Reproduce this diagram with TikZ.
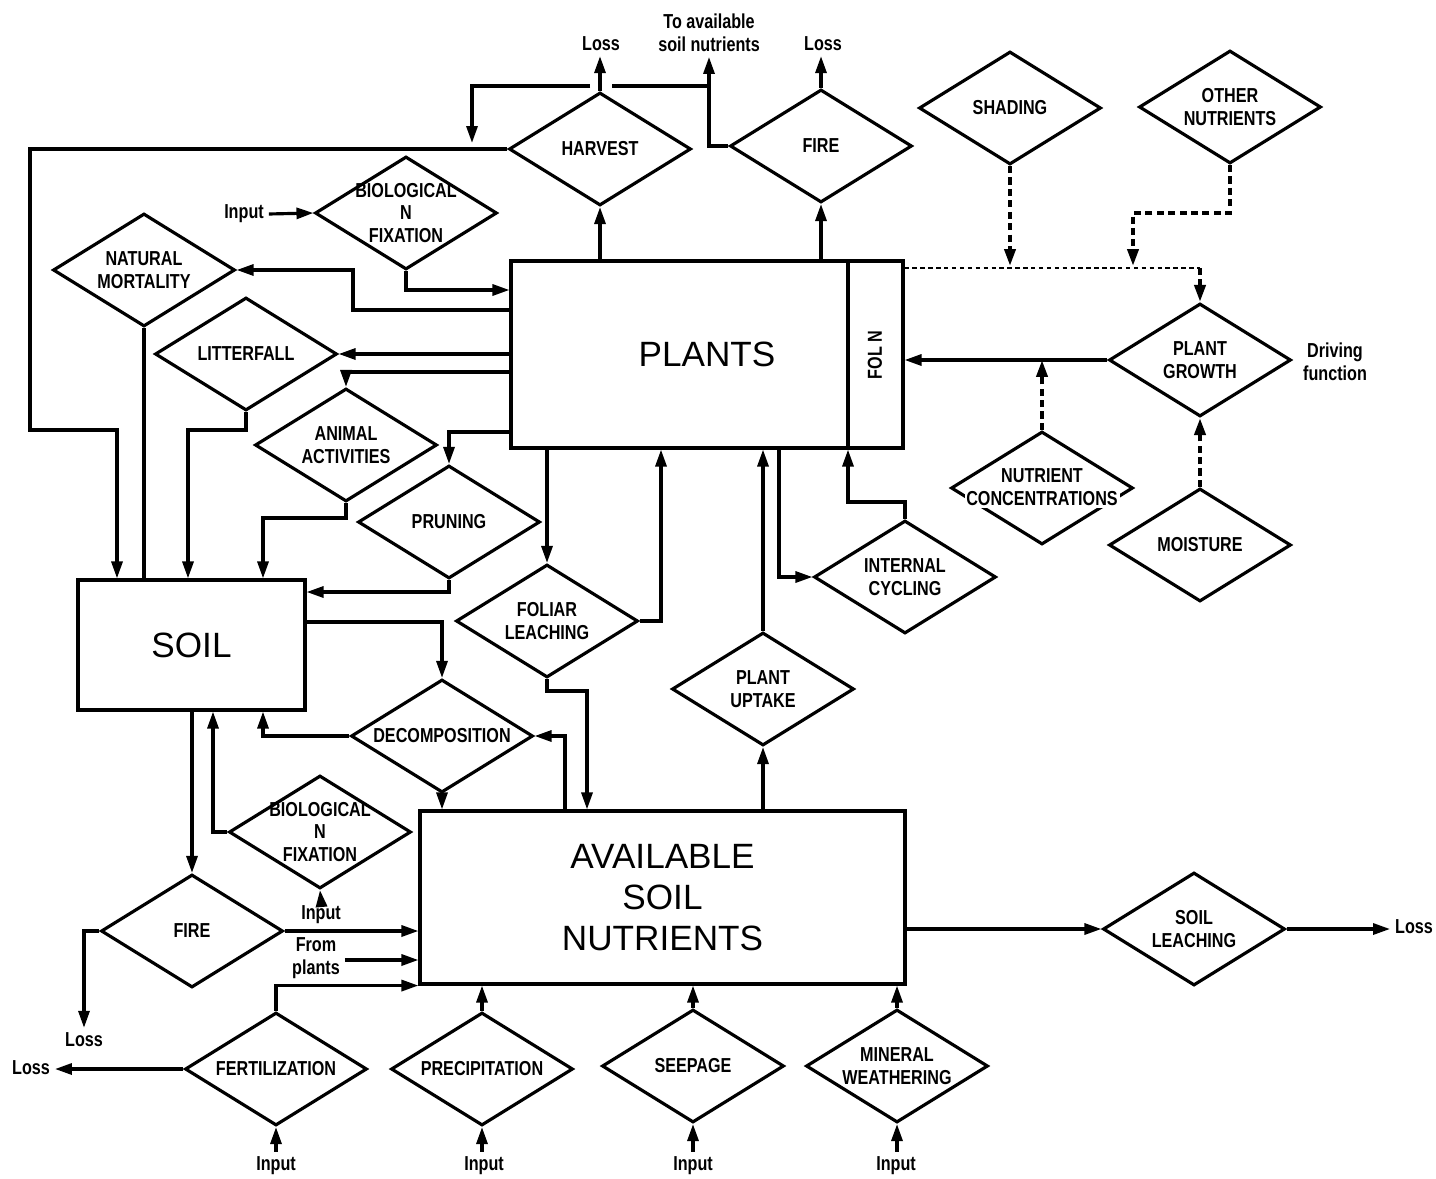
\documentclass[tikz,border=0pt]{standalone}
\usepackage{fontspec}
\setmainfont{Liberation Sans}
\newfontfamily\condf[FakeStretch=0.8]{Liberation Sans}
\newcommand{\dfont}{\condf\bfseries\fontsize{11.5}{13}\selectfont}
\newcommand{\bigf}{\fontsize{20}{23.5}\selectfont}
\usetikzlibrary{shapes.geometric, arrows.meta, calc}

\begin{document}
\begin{tikzpicture}[x=0.02cm, y=-0.02cm, line width=1.8pt,
  box/.style={draw, rectangle, inner sep=0pt, font=\bigf, align=center},
  dtxt/.style={font=\dfont, align=center, inner sep=1pt},
  dia/.style={diamond, draw, minimum width=3.64cm, minimum height=2.26cm,
    inner sep=0pt, label={[dtxt]center:#1}},
  tlbl/.style={font=\dfont, align=center, inner sep=2pt},
  arr/.style={-{Triangle[length=3.4mm,width=2.2mm]}},
  dsh/.style={-{Triangle[length=3.4mm,width=2.2mm]}, dash pattern=on 4pt off 2.5pt, line width=2.2pt},
  dt/.style={dash pattern=on 2.5pt off 2pt, line width=1.3pt}]
  \useasboundingbox (0,0) rectangle (1436,1179);

  % pools
  \node[box, minimum width=7.84cm, minimum height=3.74cm] (plants) at (707,354.5) {PLANTS};
  \node[box, minimum width=4.54cm, minimum height=2.6cm] (soil) at (191.5,645) {SOIL};
  \node[box, minimum width=9.7cm, minimum height=3.46cm] (avail) at (662.5,897.5) {AVAILABLE\\SOIL\\NUTRIENTS};
  \draw (848,0 |- plants.north) -- (848,0 |- plants.south);
  \node[tlbl, rotate=90] (foln) at (875,355) {FOL N};

  % processes
  \node[dia=HARVEST] (harvest) at (600,149) {};
  \node[dia=FIRE] (fire1) at (821,146) {};
  \node[dia=SHADING] (shade) at (1010,108) {};
  \node[dia={OTHER\\NUTRIENTS}] (othern) at (1230,107) {};
  \node[dia={BIOLOGICAL\\N\\FIXATION}] (bnf1) at (406,213) {};
  \node[dia={NATURAL\\MORTALITY}] (nmort) at (144,270) {};
  \node[dia=LITTERFALL] (litter) at (246,354) {};
  \node[dia={ANIMAL\\ACTIVITIES}] (anim) at (346,445) {};
  \node[dia=PRUNING] (prun) at (449,522) {};
  \node[dia={FOLIAR\\LEACHING}] (foliar) at (547,621) {};
  \node[dia={PLANT\\UPTAKE}] (uptake) at (763,689) {};
  \node[dia={INTERNAL\\CYCLING}] (intcyc) at (905,577) {};
  \node[dia={}, label={[dtxt, yshift=0.24cm]center:NUTRIENT},
    label={[dtxt, fill=white, yshift=-0.22cm]center:CONCENTRATIONS}] (nconc) at (1042,488) {};
  \node[dia={PLANT\\GROWTH}] (pgrowth) at (1200,360) {};
  \node[dia=MOISTURE] (moist) at (1200,545) {};
  \node[dia=DECOMPOSITION] (decomp) at (442,736) {};
  \node[dia={BIOLOGICAL\\N\\FIXATION}] (bnf2) at (320,832) {};
  \node[dia=FIRE] (fire2) at (192,931) {};
  \node[dia=FERTILIZATION] (fert) at (276,1069) {};
  \node[dia=PRECIPITATION] (precip) at (482,1069) {};
  \node[dia=SEEPAGE] (seep) at (693,1066) {};
  \node[dia={MINERAL\\WEATHERING}] (mineral) at (897,1066) {};
  \node[dia={SOIL\\LEACHING}] (sleach) at (1194,929) {};

  % free labels
  \node[tlbl] (lossA) at (601,44) {Loss};
  \node[tlbl] (lossB) at (823,44) {Loss};
  \node[tlbl] (toavail) at (709,33) {To available\\soil nutrients};
  \node[tlbl] (in1) at (244,214) {Input};
  \node[tlbl] (drive) at (1335,362) {Driving\\function};
  \node[tlbl] (in2) at (321,915) {Input};
  \node[tlbl] (fromp) at (316,958) {From\\plants};
  \node[tlbl] (loss3) at (84,1040) {Loss};
  \node[tlbl] (loss4) at (31,1068) {Loss};
  \node[tlbl] (loss5) at (1414,927) {Loss};
  \node[tlbl] (in3) at (276,1166) {Input};
  \node[tlbl] (in4) at (484,1166) {Input};
  \node[tlbl] (in5) at (693,1166) {Input};
  \node[tlbl] (in6) at (896,1166) {Input};

  % top: harvest and fire
  \draw[arr] (plants.north -| harvest.south) -- (harvest.south);
  \draw[arr] (plants.north -| fire1.south) -- (fire1.south);
  \draw[arr] (harvest.north) -- (harvest.north |- lossA.south);
  \draw[arr] (fire1.north) -- (fire1.north |- lossB.south);
  \draw[arr] (fire1.west) -| (toavail.south);
  \coordinate (jA) at (toavail.south |- 0,86);
  \draw (jA) -- (612,86);
  \draw[arr] (590,86) -| (472,143);
  \draw[arr] (harvest.west) -| (30,430) -| (117,0 |- soil.north);

  % plants to soil
  \draw[arr] (in1.east) -- (bnf1.west);
  \draw[arr] (bnf1.south) |- (plants.west |- 0,290);
  \draw[arr] (plants.west |- 0,310) -| (353,0 |- nmort.east) -- (nmort.east);
  \draw (nmort.south) -- (nmort.south |- soil.north);
  \draw[arr] (plants.west |- litter.east) -- (litter.east);
  \draw[arr] (litter.south) -- ++(0,18) -| (188,0 |- soil.north);
  \draw[arr] (plants.west |- 0,372) -| (anim.north);
  \draw[arr] (anim.south) -- ++(0,15) -| (263,0 |- soil.north);
  \draw[arr] (plants.west |- 0,432) -| (prun.north);
  \draw[arr] (prun.south) |- (soil.east |- 0,592);

  % soil and available nutrients
  \draw[arr] (soil.east |- 0,622) -| (decomp.north);
  \draw[arr] (decomp.west) -| (263,0 |- soil.south);
  \draw[arr] (decomp.south) -- (decomp.south |- avail.north);
  \draw[arr] (565,0 |- avail.north) |- (decomp.east);
  \draw[arr] (plants.south -| foliar.north) -- (foliar.north);
  \draw[arr] (foliar.east) -| (661,0 |- plants.south);
  \draw[arr] (foliar.south) -- ++(0,12) -| (587,0 |- avail.north);
  \draw[arr] (avail.north -| uptake.south) -- (uptake.south);
  \draw[arr] (uptake.north) -- (uptake.north |- plants.south);
  \draw[arr] (779,0 |- plants.south) |- (intcyc.west);
  \draw[arr] (intcyc.north) -- ++(0,-17) -| (848,0 |- plants.south);

  % growth controls
  \draw[arr] (pgrowth.west) -- (pgrowth.west -| plants.east);
  \draw[dsh] (nconc.north) -- (nconc.north |- pgrowth.west);
  \draw[dsh] (moist.north) -- (pgrowth.south);
  \coordinate (pgj) at (pgrowth.north |- 0,268);
  \draw[dt] (plants.east |- pgj) -- (pgj);
  \draw[dsh] (pgj) -- (pgrowth.north);
  \draw[dsh] (shade.south) -- (shade.south |- 0,266);
  \draw[dsh] (othern.south) |- (1133,213) -- (1133,266);

  % bottom
  \draw[arr] (bnf2.west) -| (213,0 |- soil.south);
  \draw[arr] (in2.north) -- (bnf2.south);
  \draw[arr] (fire2.north |- soil.south) -- (fire2.north);
  \draw[arr] (fire2.west) -| (loss3.north);
  \draw[arr] (fire2.east) -- (fire2.east -| avail.west);
  \draw[arr] (fromp.east |- 0,960) -- (avail.west |- 0,960);
  \draw[arr] (fert.north) |- (avail.south west);
  \draw[arr] (fert.west) -- (fert.west -| loss4.east);
  \foreach \p/\i in {fert/in3, precip/in4, seep/in5, mineral/in6}
    \draw[arr] (\i.north -| \p.south) -- (\p.south);
  \foreach \p in {precip, seep, mineral}
    \draw[arr] (\p.north) -- (\p.north |- avail.south);
  \draw[arr] (avail.east |- sleach.west) -- (sleach.west);
  \draw[arr] (sleach.east) -- (sleach.east -| loss5.west);
\end{tikzpicture}
\end{document}
